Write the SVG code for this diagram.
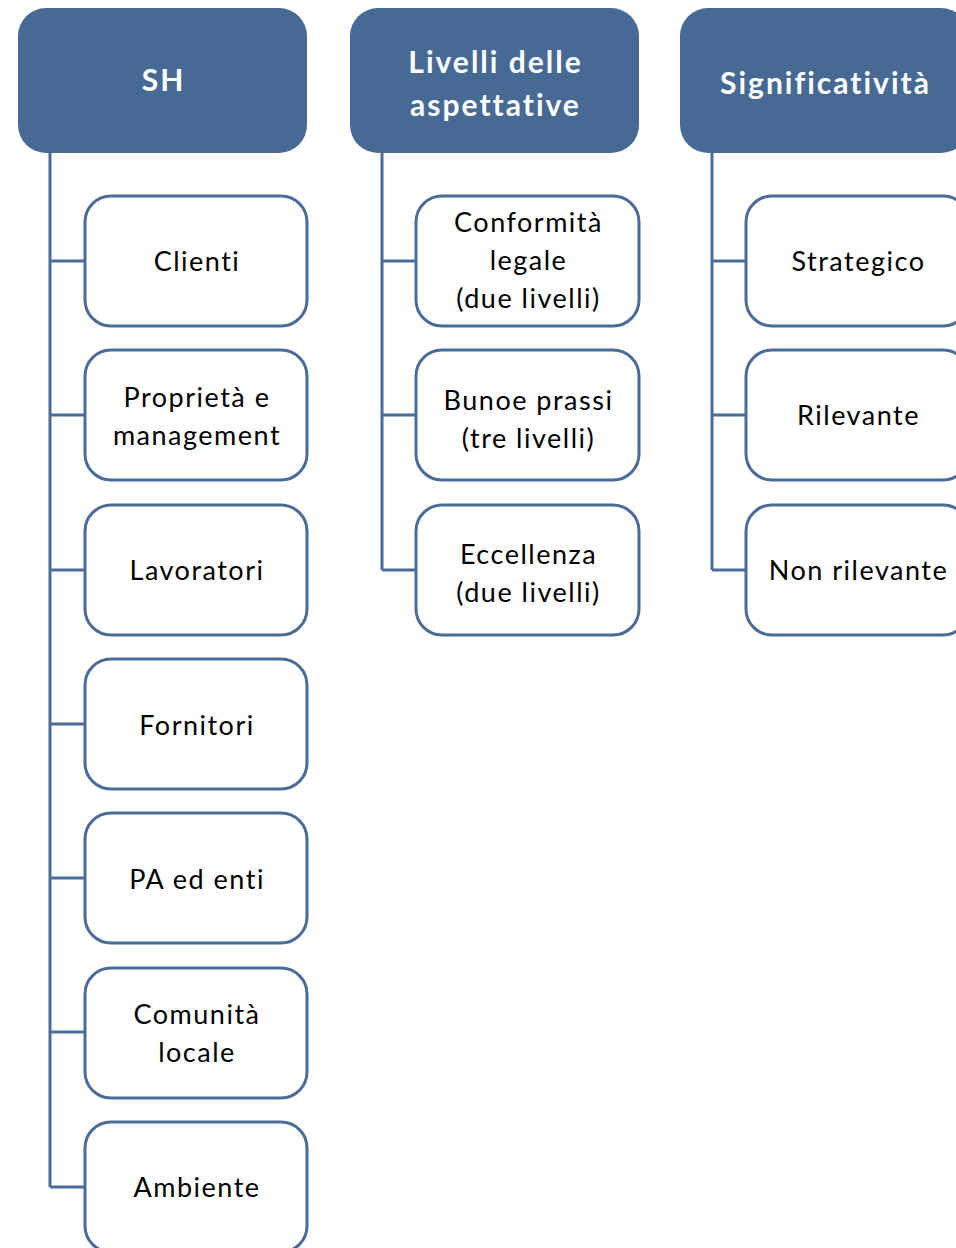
<svg xmlns="http://www.w3.org/2000/svg" width="956" height="1248" viewBox="0 0 956 1248">
<style>
.hdr{fill:#466a93}
.hdr-t{font-family:Lato,"Open Sans",sans-serif;font-weight:bold;font-size:30px;fill:#ffffff;text-anchor:middle;letter-spacing:2px;font-variant-ligatures:none}
.box{fill:#ffffff;stroke:#4a6c96;stroke-width:3}
.box-t{font-family:Lato,"Open Sans",sans-serif;font-size:27px;fill:#000000;text-anchor:middle;letter-spacing:1.5px;font-variant-ligatures:none}
.con{fill:none;stroke:#4a6c96;stroke-width:3}
</style>
<rect width="956" height="1248" fill="#ffffff"/>
<g id="connectors">
<path class="con" d="M50,153 V1187 M50,261 H85 M50,415 H85 M50,570 H85 M50,724 H85 M50,878 H85 M50,1032 H85 M50,1187 H85"/>
<path class="con" d="M382,153 V570 M382,261 H416 M382,415 H416 M382,570 H416"/>
<path class="con" d="M712,153 V570 M712,261 H746 M712,415 H746 M712,570 H746"/>
</g>
<g id="h-sh"><rect class="hdr" x="18" y="8" width="289" height="145" rx="28"/><text class="hdr-t" x="163.5" y="91">SH</text></g>
<g id="h-livelli"><rect class="hdr" x="350" y="8" width="289" height="145" rx="28"/><text class="hdr-t" x="495.5" y="73">Livelli delle</text><text class="hdr-t" x="495.5" y="116">aspettative</text></g>
<g id="h-sign"><rect class="hdr" x="680" y="8" width="289" height="145" rx="28"/><text class="hdr-t" x="825.5" y="94">Significatività</text></g>
<g id="n-clienti"><rect class="box" x="85" y="196" width="222" height="130" rx="26"/><text class="box-t" x="197" y="271">Clienti</text></g>
<g id="n-proprieta"><rect class="box" x="85" y="350" width="222" height="130" rx="26"/><text class="box-t" x="197" y="407">Proprietà e</text><text class="box-t" x="197" y="445">management</text></g>
<g id="n-lavoratori"><rect class="box" x="85" y="505" width="222" height="130" rx="26"/><text class="box-t" x="197" y="580">Lavoratori</text></g>
<g id="n-fornitori"><rect class="box" x="85" y="659" width="222" height="130" rx="26"/><text class="box-t" x="197" y="735">Fornitori</text></g>
<g id="n-pa"><rect class="box" x="85" y="813" width="222" height="130" rx="26"/><text class="box-t" x="197" y="889">PA ed enti</text></g>
<g id="n-comunita"><rect class="box" x="85" y="968" width="222" height="130" rx="26"/><text class="box-t" x="197" y="1024">Comunità</text><text class="box-t" x="197" y="1062">locale</text></g>
<g id="n-ambiente"><rect class="box" x="85" y="1122" width="222" height="130" rx="26"/><text class="box-t" x="197" y="1197">Ambiente</text></g>
<g id="n-conformita"><rect class="box" x="416" y="196" width="223" height="130" rx="26"/><text class="box-t" x="528.5" y="232">Conformità</text><text class="box-t" x="528.5" y="270">legale</text><text class="box-t" x="528.5" y="308">(due livelli)</text></g>
<g id="n-buone"><rect class="box" x="416" y="350" width="223" height="130" rx="26"/><text class="box-t" x="528.5" y="410">Bunoe prassi</text><text class="box-t" x="528.5" y="448">(tre livelli)</text></g>
<g id="n-eccellenza"><rect class="box" x="416" y="505" width="223" height="130" rx="26"/><text class="box-t" x="528.5" y="564">Eccellenza</text><text class="box-t" x="528.5" y="602">(due livelli)</text></g>
<g id="n-strategico"><rect class="box" x="746" y="196" width="223" height="130" rx="26"/><text class="box-t" x="858.5" y="271">Strategico</text></g>
<g id="n-rilevante"><rect class="box" x="746" y="350" width="223" height="130" rx="26"/><text class="box-t" x="858.5" y="425">Rilevante</text></g>
<g id="n-nonril"><rect class="box" x="746" y="505" width="223" height="130" rx="26"/><text class="box-t" x="858.5" y="580">Non rilevante</text></g>
</svg>
